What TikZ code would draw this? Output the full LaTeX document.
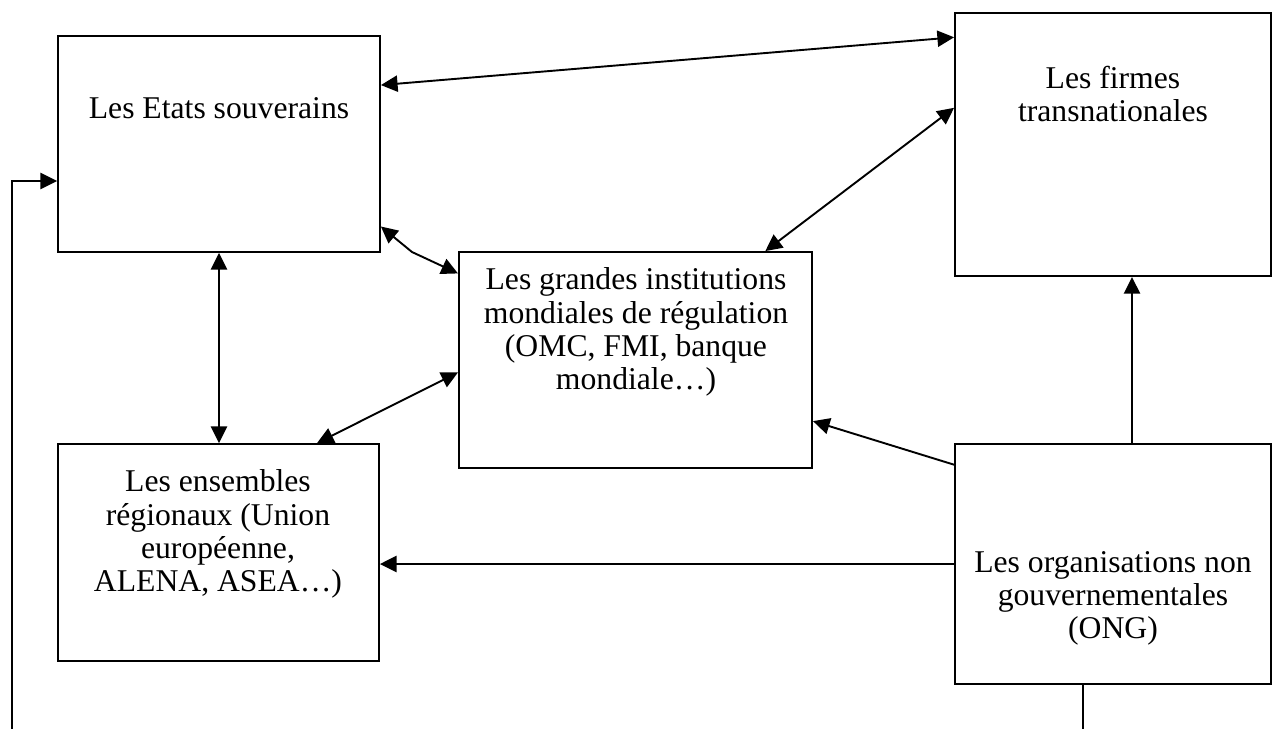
\documentclass[tikz,border=0pt]{standalone}
\usepackage{fontspec}
\setmainfont{Liberation Serif}
\usetikzlibrary{arrows.meta,calc}
\begin{document}
\begin{tikzpicture}[x=0.42pt, y=-0.42pt, >={Triangle[length=7pt,width=6.8pt]}]

    % styles
    \tikzstyle{boite}=[rectangle, draw, line width=0.8pt, inner sep=0pt]
    \tikzstyle{texte}=[align=center, inner sep=0pt, font=\fontsize{13.3}{13.9}\selectfont]
    \tikzstyle{lien}=[<->, line width=0.8pt]
    \tikzstyle{simple}=[->, line width=0.8pt]

    \useasboundingbox (0,0) rectangle (1281,728);

    %======================= BOITES =======================
    \node[boite, minimum width=135.2pt, minimum height=90.7pt]  (etats)  at (219,144)    {};
    \node[boite, minimum width=132.7pt, minimum height=110.5pt] (firmes) at (1113,144.5) {};
    \node[boite, minimum width=148.3pt, minimum height=90.7pt]  (inst)   at (635.5,360)  {};
    \node[boite, minimum width=134.8pt, minimum height=91.1pt]  (ens)    at (218.5,552.5) {};
    \node[boite, minimum width=132.7pt, minimum height=100.8pt] (ong)    at (1113,564)   {};

    % textes
    \node[texte] (etatsT)  at (219,108)  {Les Etats souverains};
    \node[texte] (firmesT) at (1113,94)  {Les firmes\\transnationales};
    \node[texte] (instT)   at (636,332)  {Les grandes institutions\\mondiales de régulation\\(OMC, FMI, banque\\mondiale…)};
    \node[texte] (ensT)    at (218,534)  {Les ensembles\\régionaux (Union\\européenne,\\ALENA, ASEA…)};
    \node[texte] (ongT)    at (1113,598) {Les organisations non\\gouvernementales\\(ONG)};

    %======================= LIENS =======================
    \draw[lien] (etats.20.75) -- (firmes.146);
    \coordinate (coude) at (412,252);
    \draw[lien] (etats.-27.83) -- (coude) -- (inst.154.8);
    \draw[lien] (etats.south) -- (etats.south |- ens.north);
    \draw[lien] (firmes.167.3) -- (inst.40.04);
    \draw[lien] (ens.48.06) -- (inst.184.2);

    % fleches depuis les ONG
    \draw[simple] (ong.148.7) -- (inst.-19.06);
    \draw[simple] (ong.west) -- (ong.west -| ens.east);
    \coordinate (haut) at ($(ong.north)+(19,0)$);
    \draw[simple] (haut) -- (haut |- firmes.south);

    % boucle vers les Etats
    \coordinate (depart) at ($(ong.south)+(-30,0)$);
    \coordinate (bas) at (1083,745);
    \coordinate (gauche) at (12,181);
    \draw[simple] (depart) -- (depart |- bas) -- (bas -| gauche) -- (gauche) -- (gauche -| etats.west);

\end{tikzpicture}
\end{document}
